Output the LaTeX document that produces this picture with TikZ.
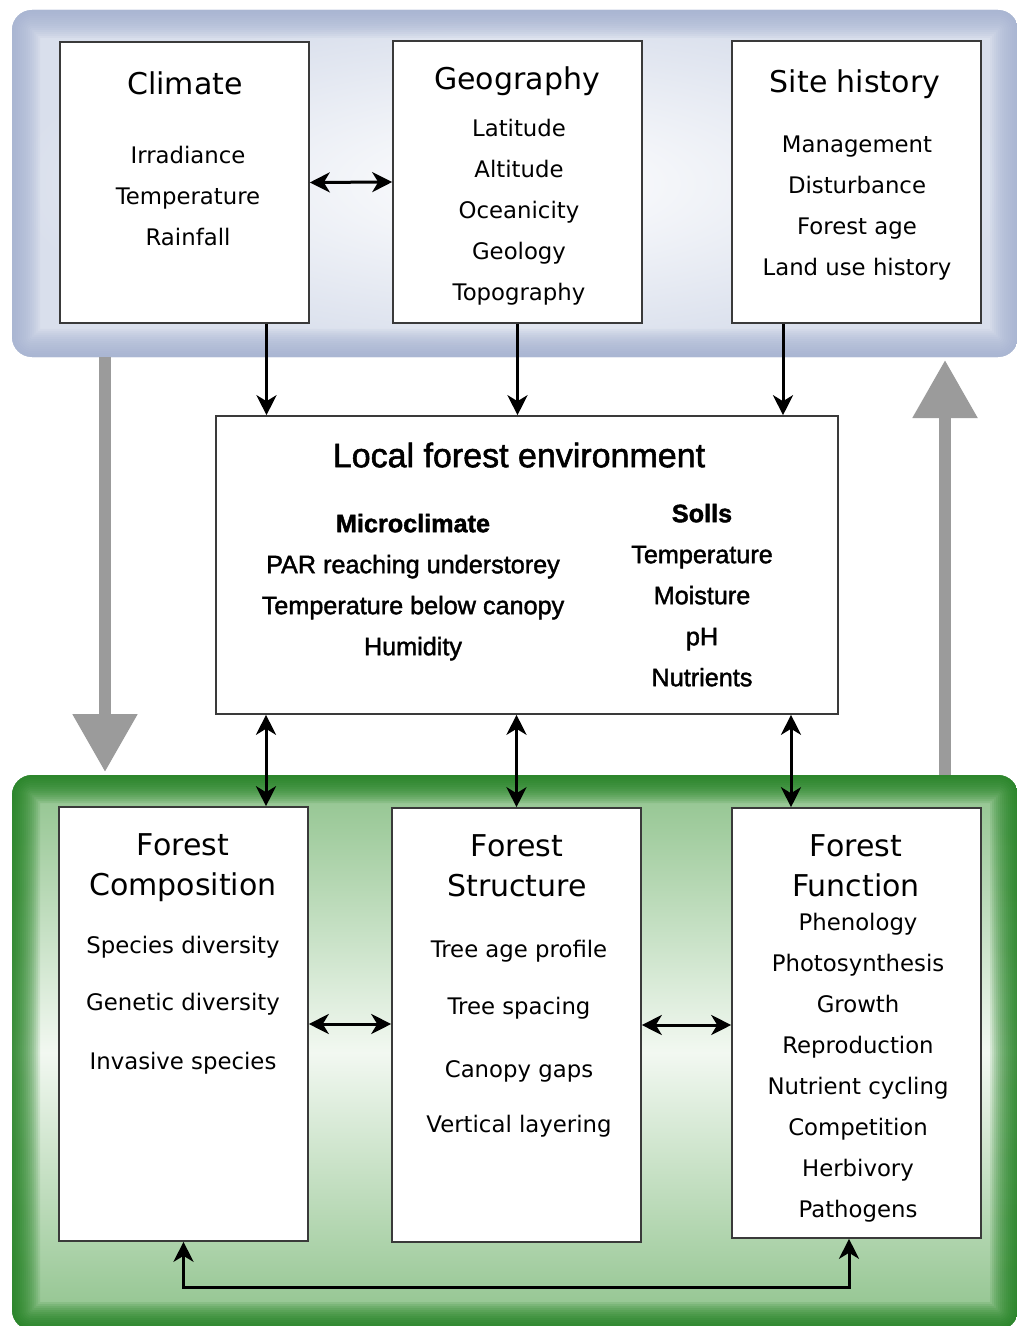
\documentclass[tikz,border=0pt]{standalone}
\usepackage{fontspec}
\setmainfont{DejaVu Sans}
\newfontfamily\envfont[FakeBold=1.6]{Liberation Sans}
\usetikzlibrary{arrows.meta,fit}

\definecolor{panelblue}{HTML}{A3B0D0}
\definecolor{paleblue}{HTML}{D9DFEC}
\definecolor{panelgreen}{HTML}{1E7F1E}
\definecolor{midgreen}{HTML}{8EC28B}
\definecolor{palegreen}{HTML}{F2F8F1}
\definecolor{boxline}{HTML}{3A3A3A}
\definecolor{bigarrow}{HTML}{9B9B9B}

\begin{document}
\begin{tikzpicture}[
    x=0.5pt, y=-0.5pt,
    box/.style={draw=boxline, line width=0.8pt, fill=white, inner sep=0pt},
    ttl/.style={font=\fontsize{15}{20}\selectfont, align=center, inner sep=0pt},
    itm/.style={font=\fontsize{11.4}{13}\selectfont, text height=0.72em, text depth=0.2em, inner sep=0pt},
    env/.style={font=\envfont\fontsize{12.6}{14}\selectfont, text height=0.72em, text depth=0.2em, inner sep=0pt},
    arr/.style={line width=1.5pt, -{Stealth[length=10pt,width=10pt,inset=3pt]}},
    dbl/.style={line width=1.5pt, {Stealth[length=10pt,width=10pt,inset=3pt]}-{Stealth[length=10pt,width=10pt,inset=3pt]}},
    fat/.style={bigarrow, line width=6pt, -{Triangle[length=29pt,width=31pt]}}
    ]
    \useasboundingbox (0,0) rectangle (1016,1326);

    % Flaechen
    \begin{scope}
        \clip[rounded corners=10pt] (12,10) rectangle (1018,357);
        \shade[inner color=white, outer color=paleblue] (12,10) rectangle (1018,357);
        \foreach \w in {2,4,...,28}
            \draw[panelblue, opacity=0.11, line width=\w pt, rounded corners=10pt] (12,10) rectangle (1018,357);
    \end{scope}
    \begin{scope}
        \clip[rounded corners=10pt] (12,775) rectangle (1018,1330);
        \shade[top color=midgreen, bottom color=midgreen, middle color=palegreen] (12,775) rectangle (1018,1330);
        \foreach \w in {2,4,...,28}
            \draw[panelgreen, opacity=0.12, line width=\w pt, rounded corners=10pt] (12,775) rectangle (1018,1330);
    \end{scope}

    % grosse Pfeile
    \coordinate (blue-s) at (105,357);
    \coordinate (green-n) at (105,772);
    \coordinate (green-top) at (945,775);
    \coordinate (blue-bot) at (945,360);
    \draw[fat] (blue-s) -- (green-n);
    \draw[fat] (green-top) -- (blue-bot);

    % Kaesten
    \node[box, fit={(60,42) (309,323)}] (climate) {};
    \node[box, fit={(393,41) (642,323)}] (geography) {};
    \node[box, fit={(732,41) (981,323)}] (site) {};
    \node[box, fit={(216,416) (838,714)}] (env) {};
    \node[box, fit={(59,807) (308,1241)}] (comp) {};
    \node[box, fit={(392,808) (641,1242)}] (struct) {};
    \node[box, fit={(732,808) (981,1238)}] (func) {};

    % Texte oben
    \node[ttl] (climate-t) at (185,83) {Climate};
    \foreach \t [count=\i] in {Irradiance,Temperature,Rainfall}
        \node[itm] (climate-\i) at (188,{117+41*\i}) {\t};
    \node[ttl] (geography-t) at (517,81) {Geography};
    \foreach \t [count=\i] in {Latitude,Altitude,Oceanicity,Geology,Topography}
        \node[itm] (geography-\i) at (519,{90+41*\i}) {\t};
    \node[ttl] (site-t) at (855,84) {Site history};
    \foreach \t [count=\i] in {Management,Disturbance,Forest age,Land use history}
        \node[itm] (site-\i) at (857,{106+41*\i}) {\t};

    % Texte Mitte
    \node[env, font=\envfont\fontsize{17}{20}\selectfont] (env-t) at (519,462) {Local forest environment};
    \node[env] (micro-t) at (413,527) {\bfseries Microclimate};
    \foreach \t [count=\i] in {PAR reaching understorey,Temperature below canopy,Humidity}
        \node[env] (micro-\i) at (413,{527+41*\i}) {\t};
    \node[env] (soil-t) at (702,517) {\bfseries Solls};
    \foreach \t [count=\i] in {Temperature,Moisture,pH,Nutrients}
        \node[env] (soil-\i) at (702,{517+41*\i}) {\t};

    % Texte unten
    \node[ttl] (comp-t) at (183,868) {Forest\\Composition};
    \foreach \t/\y [count=\i] in {Species diversity/948,Genetic diversity/1005,Invasive species/1064}
        \node[itm] (comp-\i) at (183,\y) {\t};
    \node[ttl] (struct-t) at (517,866) {Forest\\Structure};
    \foreach \t/\y [count=\i] in {Tree age profile/952,Tree spacing/1009,Canopy gaps/1072,Vertical layering/1127}
        \node[itm] (struct-\i) at (519,\y) {\t};
    \node[ttl] (func-t) at (856,866) {Forest\\Function};
    \foreach \t [count=\i] in {Phenology,Photosynthesis,Growth,Reproduction,Nutrient cycling,Competition,Herbivory,Pathogens}
        \node[itm] (func-\i) at (858,{884+41*\i}) {\t};

    % Verbindungen
    \coordinate (c1) at ([xshift=41pt]climate.south);
    \coordinate (s1) at ([xshift=-36.75pt]site.south);
    \coordinate (k1) at ([xshift=41.25pt]comp.north);
    \coordinate (f2) at ([xshift=-32.75pt]func.north);
    \coordinate (f1) at ([xshift=-3.75pt]func.south);

    \draw[dbl] (climate.east) -- (geography.west);
    \draw[arr] (c1) -- (c1 |- env.north);
    \draw[arr] (geography.south) -- (geography.south |- env.north);
    \draw[arr] (s1) -- (s1 |- env.north);

    \draw[dbl] (k1 |- env.south) -- (k1);
    \draw[dbl] (struct.north |- env.south) -- (struct.north);
    \draw[dbl] (f2 |- env.south) -- (f2);

    \draw[dbl] (comp.east) -- (comp.east -| struct.west);
    \draw[dbl] (struct.east) -- (struct.east -| func.west);
    \draw[dbl] (comp.south) -- ++(0,46) -| (f1);
\end{tikzpicture}
\end{document}
